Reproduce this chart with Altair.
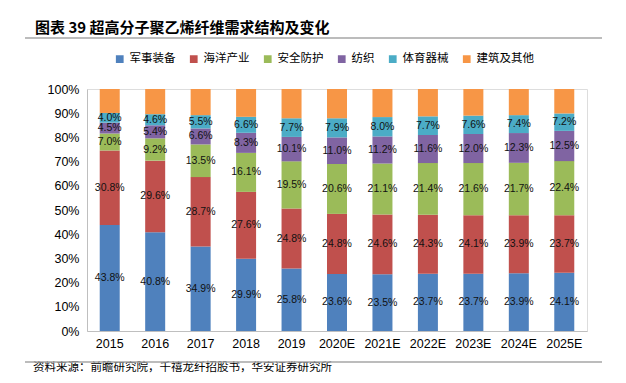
import altair as alt
import pandas as pd

years = ["2015", "2016", "2017", "2018", "2019", "2020E", "2021E", "2022E", "2023E", "2024E", "2025E"]
series = ["军事装备", "海洋产业", "安全防护", "纺织", "体育器械", "建筑及其他"]
colors = ["#4F81BD", "#C0504D", "#9BBB59", "#8064A2", "#4BACC6", "#F79646"]
military = [43.8, 40.8, 34.9, 29.9, 25.8, 23.6, 23.5, 23.7, 23.7, 23.9, 24.1]
marine = [30.8, 29.6, 28.7, 27.6, 24.8, 24.8, 24.6, 24.3, 24.1, 23.9, 23.7]
safety = [7.0, 9.2, 13.5, 16.1, 19.5, 20.6, 21.1, 21.4, 21.6, 21.7, 22.4]
textile = [4.5, 5.4, 6.6, 8.3, 10.1, 11.0, 11.2, 11.6, 12.0, 12.3, 12.5]
sports = [4.0, 4.6, 5.5, 6.6, 7.7, 7.9, 8.0, 7.7, 7.6, 7.4, 7.2]
y_ticks = [0.0, 0.1, 0.2, 0.3, 0.4, 0.5, 0.6, 0.7, 0.8, 0.9, 1.0]

rows = []
for i, y in enumerate(years):
    vals = [military[i], marine[i], safety[i], textile[i], sports[i]]
    vals.append(round(100 - sum(vals), 1))
    cum = 0.0
    for j, v in enumerate(vals):
        rows.append({
            "year": y, "series": series[j], "idx": j, "value": v,
            "y0": cum / 100, "y1": (cum + v) / 100, "mid": (cum + v / 2) / 100,
            "label": f"{v:.1f}%" if j < 5 else "",
        })
        cum += v
df = pd.DataFrame(rows)

FONT = "Noto Sans CJK SC"
W, H = 500, 242

x_axis = alt.Axis(labelAngle=0, labelFontSize=12.5, labelColor="#000", labelFont="Liberation Sans",
                  domainColor="#bfbfbf", ticks=False, labelPadding=6)
y_axis = alt.Axis(format=".0%", values=y_ticks, grid=False, ticks=False, tickCount=11,
                  labelOverlap=False, labelFontSize=12.5, labelColor="#000",
                  labelFont="Liberation Sans", domainColor="#bfbfbf", labelPadding=8)
y_scale = alt.Scale(domain=[0, 1])

base = alt.Chart(df)
bars = base.mark_bar(size=20).encode(
    x=alt.X("year:N", sort=years, title=None, axis=x_axis),
    y=alt.Y("y0:Q", title=None, scale=y_scale, axis=y_axis),
    y2="y1:Q",
    color=alt.Color("series:N", sort=series, scale=alt.Scale(domain=series, range=colors),
                    legend=alt.Legend(title=None, orient="none", direction="horizontal",
                                      legendX=27, legendY=-36, symbolType="square", symbolSize=60,
                                      labelFont=FONT, labelFontSize=11.5, labelColor="#000",
                                      columnPadding=12, symbolStrokeWidth=0)),
)
labels = base.transform_filter("datum.idx < 5").mark_text(fontSize=10.5, font="Liberation Sans", color="#111").encode(
    x=alt.X("year:N", sort=years, title=None, axis=x_axis),
    y=alt.Y("mid:Q", title=None, scale=y_scale, axis=y_axis),
    text="label:N",
)

title = alt.Chart(pd.DataFrame({"t": ["图表 39 超高分子聚乙烯纤维需求结构及变化"]})).mark_text(
    align="left", baseline="middle", fontSize=15, fontWeight="bold", font=FONT, color="#000"
).encode(x=alt.value(-52), y=alt.value(-61), text="t:N")

footer = alt.Chart(pd.DataFrame({"t": ["资料来源：前瞻研究院，千禧龙纤招股书，华安证券研究所"]})).mark_text(
    align="left", baseline="middle", fontSize=11.5, font=FONT, color="#000"
).encode(x=alt.value(-54), y=alt.value(279), text="t:N")

line_df = pd.DataFrame({"a": [0]})
top_line = alt.Chart(line_df).mark_rule(color="#a6a6a6", strokeWidth=1.5).encode(
    x=alt.value(-62), x2=alt.value(515), y=alt.value(-51))
bot_line = alt.Chart(line_df).mark_rule(color="#a6a6a6", strokeWidth=1.5).encode(
    x=alt.value(-62), x2=alt.value(515), y=alt.value(273))

chart = alt.layer(bars, labels, title, footer, top_line, bot_line).properties(
    width=W, height=H,
    autosize=alt.AutoSizeParams(type="none"),
    padding={"left": 79, "top": 81, "right": 31, "bottom": 44},
).configure_view(stroke=None).configure(background="white")

chart.save("out.html", embed_options={"renderer": "svg", "actions": False})
